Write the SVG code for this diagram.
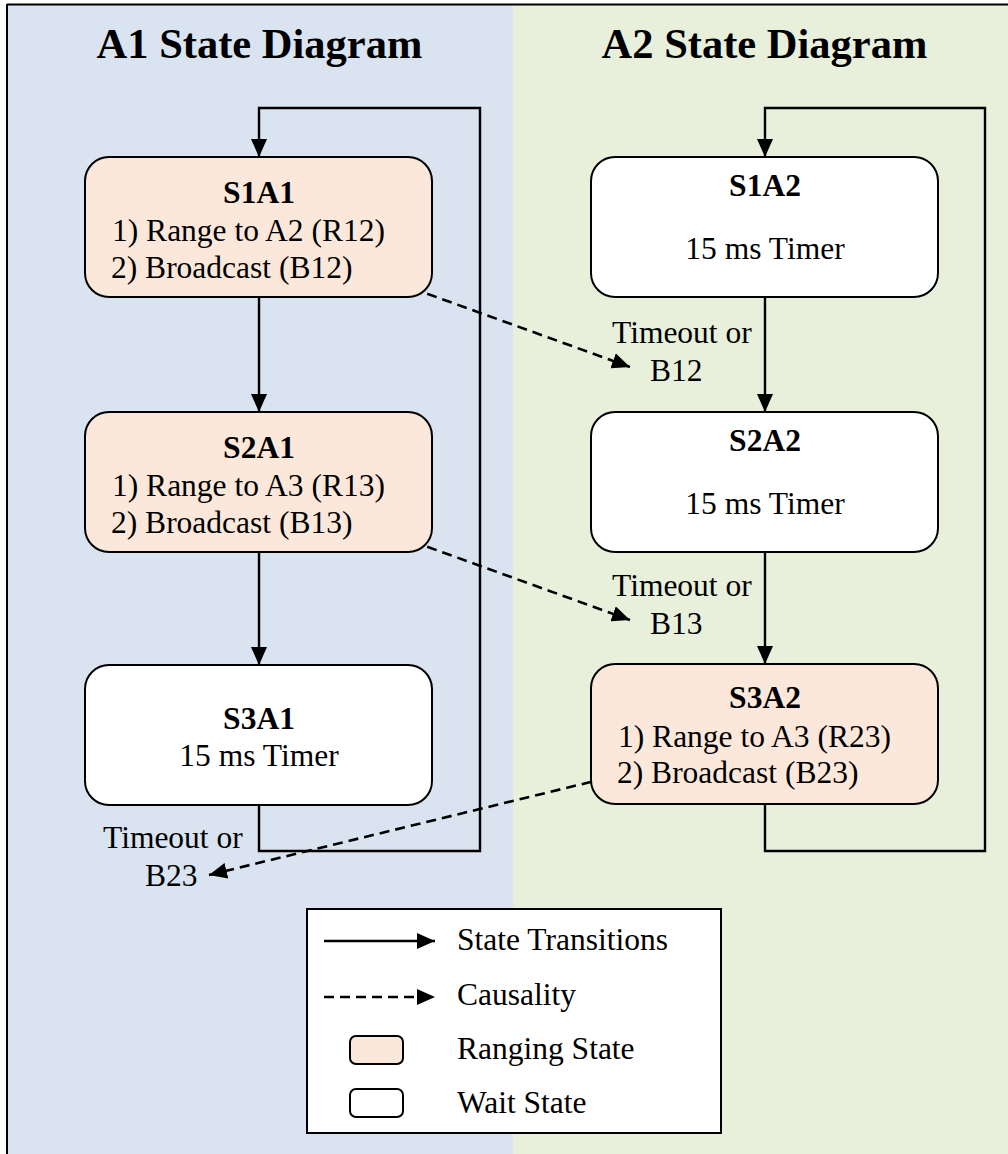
<svg xmlns="http://www.w3.org/2000/svg" width="1008" height="1154" viewBox="0 0 1008 1154">
<defs>
<marker id="ah" viewBox="0 0 18 16" refX="18" refY="8" markerWidth="18" markerHeight="16" markerUnits="userSpaceOnUse" orient="auto">
<path d="M0,0 L18,8 L0,16 z" fill="#000"/>
</marker>
</defs>
<style>
text{font-family:'Liberation Serif','Times New Roman',Times,serif;fill:#000}
.t{font-size:31.5px}
.b{font-weight:bold}
.title{font-size:42.5px;font-weight:bold}
.rng{fill:#FCE8DA;stroke:#000;stroke-width:2}
.wt{fill:#FFFFFF;stroke:#000;stroke-width:2}
.arr{fill:none;stroke:#000;stroke-width:2.4;marker-end:url(#ah)}
.dash{fill:none;stroke:#000;stroke-width:2.6;stroke-dasharray:10,6;marker-end:url(#ah)}
</style>
<rect x="0" y="0" width="1008" height="1154" fill="#fff"/>
<rect x="7" y="4" width="506" height="1150" fill="#DAE3F0"/>
<rect x="513" y="4" width="495" height="1150" fill="#E8F0DC"/>
<line x1="7" y1="4.5" x2="1008" y2="4.5" stroke="#000" stroke-width="2"/>
<line x1="7" y1="4" x2="7" y2="1154" stroke="#000" stroke-width="2"/>
<g font-family="Liberation Serif, serif">
<text class="title" x="259.5" y="58" text-anchor="middle">A1 State Diagram</text>
<text class="title" x="764.5" y="58" text-anchor="middle">A2 State Diagram</text>

<g id="connectors">
<path class="arr" d="M259,805 V851 H480 V108 H259 V157"/>
<path class="arr" d="M259,297 V412"/>
<path class="arr" d="M259,552 V665"/>
<path class="arr" d="M765,804 V851 H985 V108 H765 V157"/>
<path class="arr" d="M765,297 V412"/>
<path class="arr" d="M765,552 V664"/>
<path class="dash" d="M367,272 L630,367"/>
<path class="dash" d="M367,525 L630,620"/>
<path class="dash" d="M607,778 L209,875"/>
<text class="t" x="612" y="343">Timeout or</text>
<text class="t" x="650" y="381">B12</text>
<text class="t" x="612" y="596">Timeout or</text>
<text class="t" x="650" y="634">B13</text>
<text class="t" x="103" y="848">Timeout or</text>
<text class="t" x="145" y="886">B23</text>
</g>

<g id="S1A1">
<rect class="rng" x="85" y="157" width="347" height="140" rx="24"/>
<text class="t b" x="259" y="203" text-anchor="middle">S1A1</text>
<text class="t" x="112" y="241">1) Range to A2 (R12)</text>
<text class="t" x="111" y="278">2) Broadcast (B12)</text>
</g>
<g id="S2A1">
<rect class="rng" x="85" y="412" width="347" height="140" rx="24"/>
<text class="t b" x="259" y="458" text-anchor="middle">S2A1</text>
<text class="t" x="112" y="496">1) Range to A3 (R13)</text>
<text class="t" x="111" y="533">2) Broadcast (B13)</text>
</g>
<g id="S3A1">
<rect class="wt" x="85" y="665" width="347" height="140" rx="24"/>
<text class="t b" x="259" y="729" text-anchor="middle">S3A1</text>
<text class="t" x="259" y="766" text-anchor="middle">15 ms Timer</text>
</g>
<g id="S1A2">
<rect class="wt" x="591" y="157" width="347" height="140" rx="24"/>
<text class="t b" x="765" y="196" text-anchor="middle">S1A2</text>
<text class="t" x="765" y="259" text-anchor="middle">15 ms Timer</text>
</g>
<g id="S2A2">
<rect class="wt" x="591" y="412" width="347" height="140" rx="24"/>
<text class="t b" x="765" y="451" text-anchor="middle">S2A2</text>
<text class="t" x="765" y="514" text-anchor="middle">15 ms Timer</text>
</g>
<g id="S3A2">
<rect class="rng" x="591" y="664" width="347" height="140" rx="24"/>
<text class="t b" x="765" y="708" text-anchor="middle">S3A2</text>
<text class="t" x="618" y="747">1) Range to A3 (R23)</text>
<text class="t" x="617" y="783">2) Broadcast (B23)</text>
</g>

<g id="legend">
<rect x="307" y="909" width="414" height="224" fill="#fff" stroke="#000" stroke-width="2"/>
<path class="arr" d="M324,941 H435"/>
<text class="t" x="457" y="950">State Transitions</text>
<path class="dash" d="M324,997 H435"/>
<text class="t" x="457" y="1005">Causality</text>
<rect class="rng" x="350" y="1036" width="53" height="28" rx="6"/>
<text class="t" x="457" y="1059">Ranging State</text>
<rect class="wt" x="350" y="1089" width="53" height="28" rx="6"/>
<text class="t" x="457" y="1113">Wait State</text>
</g>
</g>
</svg>
